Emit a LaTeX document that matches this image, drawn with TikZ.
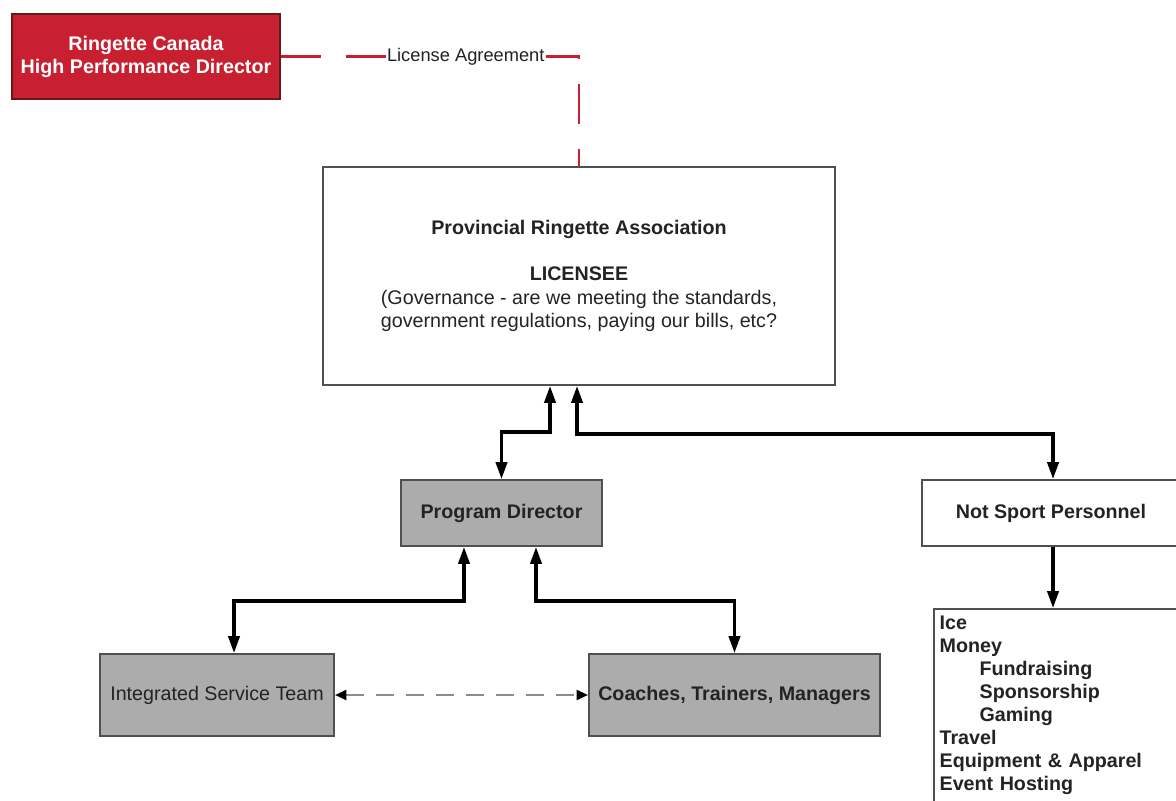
\documentclass[tikz,border=0pt]{standalone}
\usepackage{fontspec}
\setmainfont{Liberation Sans}
\usepackage{tikz}
\usetikzlibrary{arrows.meta,calc}

\definecolor{rcred}{RGB}{200,32,48}
\definecolor{rcdark}{RGB}{105,22,30}
\definecolor{boxgrey}{RGB}{172,172,172}
\definecolor{edgegrey}{RGB}{80,80,80}
\definecolor{textgrey}{RGB}{35,35,35}

\tikzset{
  box/.style={rectangle, draw=edgegrey, line width=1.4pt, align=center, text=textgrey,
    font=\fontsize{14}{16.3}\selectfont},
  greybox/.style={box, fill=boxgrey},
  redbox/.style={box, fill=rcred, draw=rcdark, text=white,
    font=\bfseries\fontsize{14}{16.3}\selectfont},
  bold/.style={font=\bfseries\fontsize{14}{16.3}\selectfont},
  link/.style={line width=2.2pt, -{Triangle[length=12pt,width=8pt]}},
  biarrow/.style={line width=2.2pt, {Triangle[length=12pt,width=8pt]}-{Triangle[length=12pt,width=8pt]}},
  licline/.style={draw=rcred, line width=2pt, dash pattern=on 1cm off 0.625cm},
  teamline/.style={draw=black!45, line width=1.6pt, dash pattern=on 0.45cm off 0.3cm,
    {Triangle[length=8pt,width=7pt,color=black]}-{Triangle[length=8pt,width=7pt,color=black]}}
}

\begin{document}
\begin{tikzpicture}[x=0.025cm,y=-0.025cm]

\useasboundingbox (0,0) rectangle (1176,801);
\clip (0,0) rectangle (1176,801);
\fill[white] (0,0) rectangle (1176,801);

\node[redbox, minimum width=6.7cm, minimum height=2.125cm] (rc) at (146,56.5)
  {Ringette Canada\\High Performance Director};

\node[box, minimum width=12.8cm, minimum height=5.45cm] (prov) at (579,276)
  {\textbf{Provincial Ringette Association}\\[16pt]
   \textbf{LICENSEE}\\[1pt]
   (Governance - are we meeting the standards,\\
   government regulations, paying our bills, etc?};

\node[greybox, bold, minimum width=5.025cm, minimum height=1.65cm] (pd) at (501.5,513) {Program Director};
\node[box, bold, minimum width=6.45cm, minimum height=1.65cm] (nsp) at (1051,513) {Not Sport Personnel};

\node[greybox, minimum width=5.85cm, minimum height=2.05cm] (ist) at (217,695) {Integrated Service Team};
\node[greybox, bold, minimum width=7.275cm, minimum height=2.05cm] (ctm) at (734.5,695) {Coaches, Trainers, Managers};

\node[box, bold, anchor=north west, align=left, text width=5.9cm,
      inner xsep=4pt, inner ysep=5pt] (list) at (933,608)
  {Ice\\
   Money\\
   \hspace*{1cm}Fundraising\\
   \hspace*{1cm}Sponsorship\\
   \hspace*{1cm}Gaming\\
   Travel\\
   Equipment \& Apparel\\
   Event Hosting\\
   \mbox{}};

% license agreement
\draw[licline] (rc.east) -| node[pos=0.31, fill=white, inner sep=1pt, text=textgrey,
  font=\fontsize{13}{15}\selectfont] {License Agreement} (prov.north);

\draw[biarrow] (pd.north) -- ++(0,-47) -| ($(prov.south)+(-29,0)$);
\draw[biarrow] ($(prov.south)+(-2,0)$) -- ++(0,48) -| ($(nsp.north)+(2,0)$);

\draw[biarrow] ($(pd.south)+(-37.5,0)$) -- ++(0,54) -| ($(ist.north)+(17,0)$);
\draw[biarrow] ($(pd.south)+(34.5,0)$) -- ++(0,54) -| (ctm.north);

\draw[link] ($(nsp.south)+(2,0)$) -- ($(nsp.south |- list.north)+(2,0)$);

\draw[teamline] (ist.east) -- (ctm.west);

\end{tikzpicture}
\end{document}
